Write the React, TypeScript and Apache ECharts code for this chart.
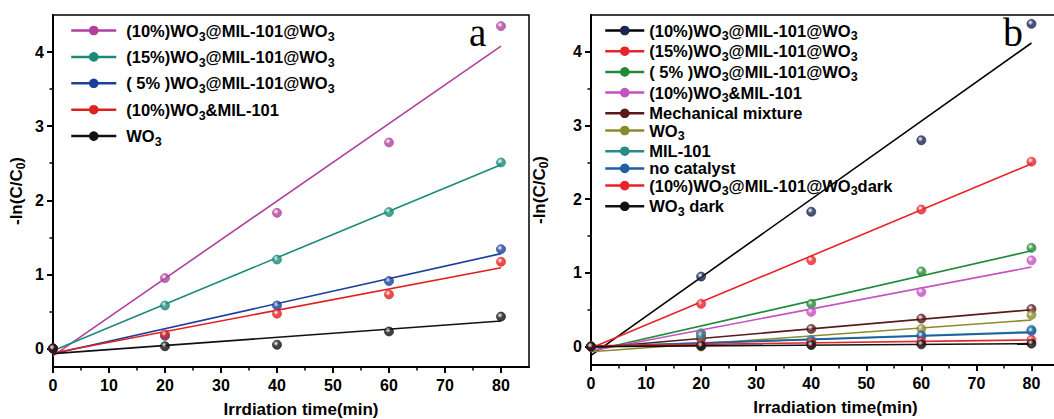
import { useEffect, useRef } from "react";
import * as echarts from "echarts";

// ---------- data ----------
const times = [0, 20, 40, 60, 80];
const fitTimes = [0, 80];
const xLabelTicks = [0, 10, 20, 30, 40, 50, 60, 70, 80];
const xMinorTicks = [5, 15, 25, 35, 45, 55, 65, 75];
const yLabelTicks = [0, 1, 2, 3, 4];
const yMinorTicks = [0.5, 1.5, 2.5, 3.5];

// panel a
const aNames = [
  "(10%)WO3@MIL-101@WO3",
  "(15%)WO3@MIL-101@WO3",
  "( 5% )WO3@MIL-101@WO3",
  "(10%)WO3&MIL-101",
  "WO3",
];
const a10WMW = [0, 0.95, 1.83, 2.78, 4.35];
const a15WMW = [0, 0.58, 1.2, 1.84, 2.51];
const a5WMW = [0, 0.17, 0.58, 0.91, 1.34];
const a10WM = [0, 0.19, 0.47, 0.73, 1.17];
const aWO3 = [0, 0.03, 0.05, 0.23, 0.43];
const a10WMWFit = [-0.1, 4.08];
const a15WMWFit = [-0.03, 2.48];
const a5WMWFit = [-0.07, 1.28];
const a10WMFit = [-0.06, 1.09];
const aWO3Fit = [-0.07, 0.37];
const aColors = ["#b0409e", "#1b8a78", "#1c3f9c", "#e0201e", "#111111"];

// panel b
const bNames = [
  "(10%)WO3@MIL-101@WO3",
  "(15%)WO3@MIL-101@WO3",
  "( 5% )WO3@MIL-101@WO3",
  "(10%)WO3&MIL-101",
  "Mechanical mixture",
  "WO3",
  "MIL-101",
  "no catalyst",
  "(10%)WO3@MIL-101@WO3dark",
  "WO3 dark",
];
const b10WMW = [0, 0.95, 1.83, 2.8, 4.38];
const b15WMW = [0, 0.58, 1.17, 1.86, 2.51];
const b5WMW = [0, 0.18, 0.58, 1.02, 1.34];
const b10WM = [0, 0.17, 0.47, 0.74, 1.17];
const bMech = [0, 0.11, 0.24, 0.38, 0.51];
const bWO3 = [0, 0.0, 0.03, 0.24, 0.43];
const bMIL = [0, 0.15, 0.09, 0.14, 0.23];
const bNoCat = [0, 0.02, 0.07, 0.15, 0.21];
const b10Dark = [0, 0.04, 0.05, 0.07, 0.09];
const bWO3Dark = [0, 0.01, 0.02, 0.03, 0.04];
const b10WMWFit = [-0.12, 4.12];
const b15WMWFit = [-0.02, 2.48];
const b5WMWFit = [-0.06, 1.3];
const b10WMFit = [-0.06, 1.08];
const bMechFit = [-0.02, 0.5];
const bWO3Fit = [-0.07, 0.36];
const bMILFit = [0.0, 0.2];
const bNoCatFit = [0.0, 0.19];
const b10DarkFit = [0.01, 0.09];
const bWO3DarkFit = [0.0, 0.04];
const bPointColors = ["#1b2452", "#e8232a", "#1f8a3a", "#c452c0", "#5a1a1c", "#8c8a2e", "#2a8a8a", "#1f5fa6", "#e8232a", "#111111"];
const bLineColors = ["#000000", "#e8232a", "#1f8a3a", "#c452c0", "#5a1a1c", "#8c8a2e", "#2a8a8a", "#1f5fa6", "#e8232a", "#111111"];

const FONT = 'Arial, "Liberation Sans", Helvetica, sans-serif';
const SERIF = '"Liberation Serif", "Times New Roman", "DejaVu Serif", serif';

function ball(c: string) {
  return new echarts.graphic.RadialGradient(0.38, 0.35, 0.7, [
    { offset: 0, color: "#ffffff" },
    { offset: 0.45, color: c },
    { offset: 1, color: c },
  ]);
}

function buildSeries(
  prefix: string,
  idx: number,
  names: string[],
  values: number[][],
  fits: number[][],
  pointColors: string[],
  lineColors: string[]
) {
  const out: any[] = [];
  names.forEach((n, i) => {
    out.push({
      type: "line",
      name: prefix + n,
      xAxisIndex: idx,
      yAxisIndex: idx,
      data: fitTimes.map((t, k) => [t, fits[i][k]]),
      symbol: "circle",
      showSymbol: false,
      lineStyle: { color: lineColors[i], width: 1.6 },
      itemStyle: { color: pointColors[i] },
      z: 2,
    });
  });
  names.forEach((n, i) => {
    out.push({
      type: "scatter",
      name: prefix + n,
      xAxisIndex: idx,
      yAxisIndex: idx,
      data: times.map((t, k) => [t, values[i][k]]),
      symbol: "circle",
      symbolSize: 9,
      itemStyle: { color: ball(pointColors[i]), borderColor: pointColors[i], borderWidth: 0.8 },
      z: 3,
    });
  });
  return out;
}

function legendFormatter(name: string) {
  const disp = name.slice(2);
  return disp
    .split("WO3")
    .map((p) => (p ? `{a|${p}}` : ""))
    .join("{a|WO}{s|3}");
}

function legendRich(lh: number, shift: number) {
  return {
    a: { fontFamily: FONT, fontSize: 16.5, fontWeight: "bold", color: "#000", lineHeight: lh },
    s: {
      fontFamily: FONT,
      fontSize: 12.5,
      fontWeight: "bold",
      color: "#000",
      lineHeight: 12,
      padding: [shift, 0, -shift, 0],
    },
  };
}

function legendData(prefix: string, names: string[], pointColors: string[], lineColors: string[]) {
  return names.map((n, i) => ({
    name: prefix + n,
    itemStyle: { color: pointColors[i], borderWidth: 0 },
    lineStyle: { color: lineColors[i], width: 2.5 },
  }));
}

const axisText = { fontFamily: FONT, fontSize: 16, fontWeight: "bold" as const, color: "#000" };

function mainX(idx: number, name: string, gap: number, shift: number) {
  return {
    type: "value",
    gridIndex: idx,
    min: 0,
    max: 85,
    position: "bottom",
    axisLine: { show: true, onZero: false, lineStyle: { color: "#000", width: 2 } },
    axisTick: { show: true, customValues: xLabelTicks, length: 6, lineStyle: { color: "#000", width: 2 } },
    axisLabel: { customValues: xLabelTicks, margin: 10, ...axisText },
    splitLine: { show: false },
    name,
    nameLocation: "middle",
    nameGap: gap,
    nameTextStyle: { fontFamily: FONT, fontSize: 17, fontWeight: "bold", color: "#000", padding: [0, 0, 0, shift] },
  };
}
function minorX(idx: number) {
  return {
    type: "value",
    gridIndex: idx,
    min: 0,
    max: 85,
    position: "bottom",
    axisLine: { show: false, onZero: false },
    axisTick: { show: true, customValues: xMinorTicks, length: 3.5, lineStyle: { color: "#000", width: 1.5 } },
    axisLabel: { show: false },
    splitLine: { show: false },
  };
}
function mainY(idx: number, gap: number) {
  return {
    type: "value",
    gridIndex: idx,
    min: -0.25,
    max: 4.5,
    position: "left",
    axisLine: { show: true, onZero: false, lineStyle: { color: "#000", width: 2 } },
    axisTick: { show: true, customValues: yLabelTicks, length: 6, lineStyle: { color: "#000", width: 2 } },
    axisLabel: { customValues: yLabelTicks, margin: 9, ...axisText },
    splitLine: { show: false },
    name: "{a|-ln(C/C}{s|0}{a|)}",
    nameLocation: "middle",
    nameGap: gap,
    nameTextStyle: {
      rich: {
        a: { fontFamily: FONT, fontSize: 17, fontWeight: "bold", color: "#000", lineHeight: 22 },
        s: { fontFamily: FONT, fontSize: 12, fontWeight: "bold", color: "#000", lineHeight: 12, padding: [10, 0, 0, 0] },
      },
    },
  };
}
function minorY(idx: number) {
  return {
    type: "value",
    gridIndex: idx,
    min: -0.25,
    max: 4.5,
    position: "left",
    axisLine: { show: false, onZero: false },
    axisTick: { show: true, customValues: yMinorTicks, length: 3.5, lineStyle: { color: "#000", width: 1.5 } },
    axisLabel: { show: false },
    splitLine: { show: false },
  };
}

export default function App() {
  const ref = useRef<HTMLDivElement>(null);
  useEffect(() => {
    if (!ref.current) return;
    const chart = echarts.init(ref.current, undefined, { renderer: "svg" });
    const aValues = [a10WMW, a15WMW, a5WMW, a10WM, aWO3];
    const aFits = [a10WMWFit, a15WMWFit, a5WMWFit, a10WMFit, aWO3Fit];
    const bValues = [b10WMW, b15WMW, b5WMW, b10WM, bMech, bWO3, bMIL, bNoCat, b10Dark, bWO3Dark];
    const bFits = [b10WMWFit, b15WMWFit, b5WMWFit, b10WMFit, bMechFit, bWO3Fit, bMILFit, bNoCatFit, b10DarkFit, bWO3DarkFit];

    const option: any = {
      animation: false,
      backgroundColor: "#ffffff",
      grid: [
        { left: 53, top: 15, width: 476, height: 352, show: true, borderColor: "#000", borderWidth: 1.5, backgroundColor: "transparent", outerBoundsMode: "none", containLabel: false },
        { left: 591, top: 15, width: 468, height: 350, show: true, borderColor: "#000", borderWidth: 1.5, backgroundColor: "transparent", outerBoundsMode: "none", containLabel: false },
      ],
      xAxis: [
        mainX(0, "Irrdiation time(min)", 33.5, 20),
        mainX(1, "Irradiation time(min)", 34, 21),
        minorX(0),
        minorX(1),
      ],
      yAxis: [mainY(0, 26), mainY(1, 41), minorY(0), minorY(1)],
      legend: [
        {
          orient: "vertical",
          left: 70,
          top: 22,
          padding: 0,
          itemWidth: 45,
          itemHeight: 12,
          itemGap: 5.4,
          selectedMode: false,
          data: legendData("a:", aNames, aColors, aColors),
          formatter: legendFormatter,
          textStyle: { rich: legendRich(22, 6), padding: [0, 0, 0, 5] },
        },
        {
          orient: "vertical",
          left: 604,
          top: 22,
          padding: 0,
          itemWidth: 39,
          itemHeight: 12,
          itemGap: 0.2,
          selectedMode: false,
          data: legendData("b:", bNames, bPointColors, bLineColors),
          formatter: legendFormatter,
          textStyle: { rich: legendRich(19, 5.5) },
        },
      ],
      graphic: [
        { type: "text", left: 469, top: 13, style: { text: "a", font: `39px ${SERIF}`, fill: "#000" } },
        { type: "text", left: 1003, top: 12, style: { text: "b", font: `40px ${SERIF}`, fill: "#000" } },
      ],
      series: [
        ...buildSeries("a:", 0, aNames, aValues, aFits, aColors, aColors),
        ...buildSeries("b:", 1, bNames, bValues, bFits, bPointColors, bLineColors),
      ],
    };
    chart.setOption(option);
    return () => chart.dispose();
  }, []);
  return (
    <div
      ref={ref}
      style={{ position: "absolute", left: 0, top: 0, width: 1054, height: 419, background: "#fff" }}
    />
  );
}
